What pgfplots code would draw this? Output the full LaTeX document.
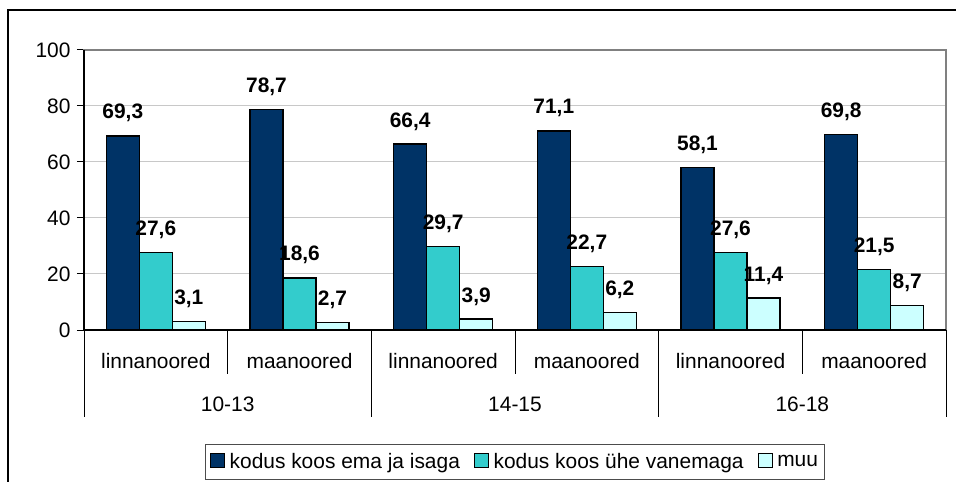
\documentclass[border=0pt]{standalone}
\usepackage{fontspec}
\setmainfont{Liberation Sans}
\usepackage{pgfplots}
\pgfplotsset{compat=1.18}
\definecolor{ser1}{HTML}{003366}
\definecolor{ser2}{HTML}{33CCCC}
\definecolor{ser3}{HTML}{CCFFFF}
\definecolor{gridc}{HTML}{C8C8C8}
\newcommand\cf{\fontsize{21}{25}\selectfont}
\pgfkeys{/pgf/number format/assume math mode=true}

\begin{document}
\begin{tikzpicture}
\useasboundingbox (0bp,0bp) rectangle (956bp,482bp);
\clip (0bp,0bp) rectangle (956bp,482bp);
\begin{axis}[
    at={(84bp,152bp)}, anchor=south west,
    scale only axis, width=862bp, height=280bp,
    xmin=-0.5, xmax=5.5, ymin=0, ymax=100,
    ytick={0,20,...,100},
    xtick={0,...,5},
    xticklabels={linnanoored,maanoored,linnanoored,maanoored,linnanoored,maanoored},
    xtick style={draw=none},
    xticklabel style={font=\cf, anchor=base, yshift=-31bp},
    yticklabel style={font=\cf, anchor=east, xshift=-3bp},
    ytick pos=left,
    ytick align=outside, major tick length=7bp,
    ytick style={black, line width=1bp},
    ymajorgrids, grid style={gridc, line width=1bp},
    axis line style={draw=black!50, line width=1.3bp},
    ybar=0pt, bar width=33bp,
    clip=false,
    every axis plot/.append style={draw=black, line width=1.3bp},
    nodes near coords={\pgfmathprintnumber[fixed,fixed zerofill,precision=1,use comma]{\pgfplotspointmeta}},
    every node near coord/.append style={font=\cf\bfseries, anchor=base, yshift=17bp, black},
    legend columns=3,
    legend image code/.code={\draw[#1, draw=black, line width=1.3bp] (0bp,-5.5bp) rectangle (14bp,8.5bp);
        \path[draw=none, fill=none] (0bp,0bp) -- (17bp,0bp);},
    legend style={at={(0.5,-0.4714)}, anchor=center, draw=black!70, line width=1bp,
        font=\cf, inner xsep=5bp, inner ysep=7bp},
]
% kodus koos ema ja isaga
\addplot[fill=ser1] coordinates {(0,69.3) (1,78.7) (2,66.4) (3,71.1) (4,58.1) (5,69.8)};
% kodus koos ühe vanemaga
\addplot[fill=ser2] coordinates {(0,27.6) (1,18.6) (2,29.7) (3,22.7) (4,27.6) (5,21.5)};
% muu
\addplot[fill=ser3] coordinates {(0,3.1) (1,2.7) (2,3.9) (3,6.2) (4,11.4) (5,8.7)};
\legend{kodus koos ema ja isaga\hspace*{12bp},kodus koos ühe vanemaga\hspace*{12bp},muu}

\draw[black, line width=1.3bp] (axis cs:-0.5,100) -- (axis cs:-0.5,0) -- (axis cs:5.5,0);
\pgfplotsinvokeforeach{0.5,2.5,4.5}{
  \draw[black, line width=1bp] (axis cs:#1,0) -- ++(0pt,-44bp);
}
\pgfplotsinvokeforeach{-0.5,1.5,3.5,5.5}{
  \draw[black, line width=1bp] (axis cs:#1,0) -- ++(0pt,-87bp);
}
\node[font=\cf, anchor=base] at ([yshift=-81bp]axis cs:0.5,0) {10-13};
\node[font=\cf, anchor=base] at ([yshift=-81bp]axis cs:2.5,0) {14-15};
\node[font=\cf, anchor=base] at ([yshift=-81bp]axis cs:4.5,0) {16-18};
\end{axis}
\draw[black, line width=1.5bp] (8bp,-20bp) -- (8bp,472bp) -- (980bp,472bp);
\end{tikzpicture}
\end{document}
